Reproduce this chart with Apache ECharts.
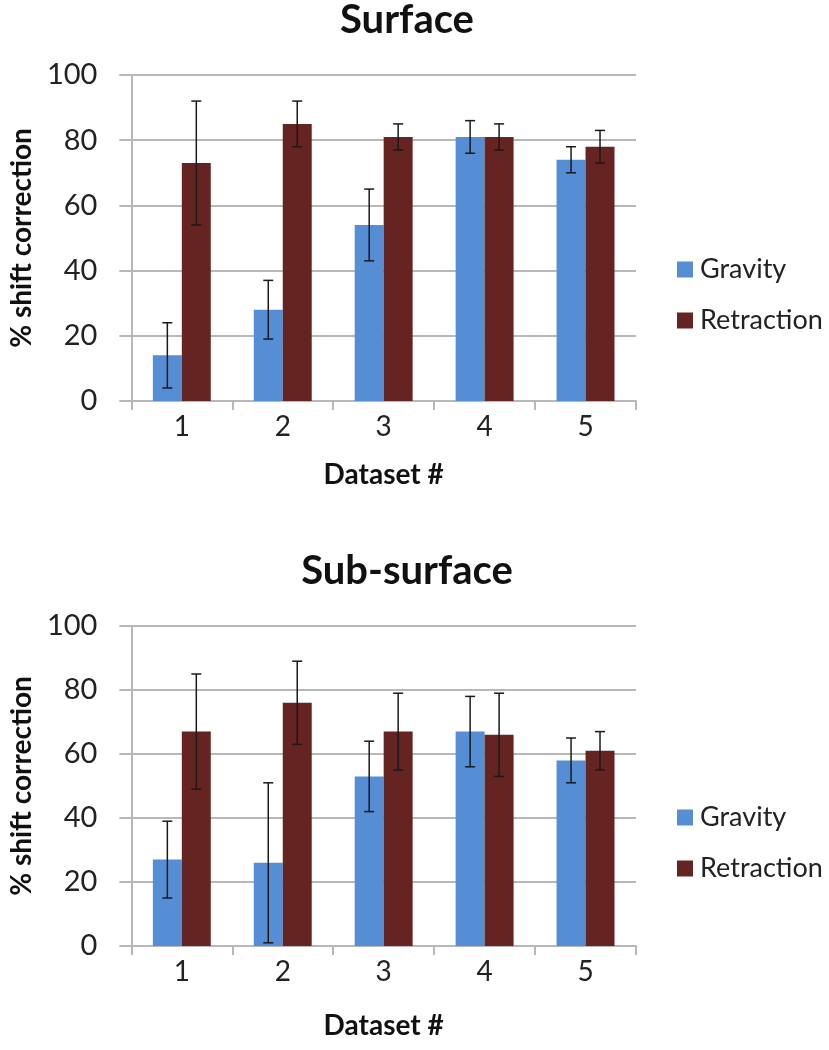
<!DOCTYPE html>
<html>
<head>
<meta charset="utf-8">
<script src="https://cdn.jsdelivr.net/npm/echarts@6/dist/echarts.min.js"></script>
<style>
html,body{margin:0;padding:0;background:#fff;}
#chart{width:829px;height:1050px;}
</style>
</head>
<body>
<div id="chart"></div>
<script>
const categories = ['1', '2', '3', '4', '5'];
const yTicks = [0, 20, 40, 60, 80, 100];
const seriesNames = ['Gravity', 'Retraction'];
const surfaceGravity = [14, 28, 54, 81, 74];
const surfaceGravityErr = [10, 9, 11, 5, 4];
const surfaceRetraction = [73, 85, 81, 81, 78];
const surfaceRetractionErr = [19, 7, 4, 4, 5];
const subGravity = [27, 26, 53, 67, 58];
const subGravityErr = [12, 25, 11, 11, 7];
const subRetraction = [67, 76, 67, 66, 61];
const subRetractionErr = [18, 13, 12, 13, 6];

const FONT = 'Lato';
const BLUE = '#558ED5';
const RED = '#652421';
const GRIDC = '#B8B8B8';
const BAR_FRAC = 0.287;

const chart = echarts.init(document.getElementById('chart'), null, {renderer: 'canvas'});

function errData(vals, errs) {
  return vals.map((v, i) => [i, v - errs[i], v + errs[i]]);
}
function errSeries(vals, errs, sign, gi) {
  return {
    type: 'custom',
    xAxisIndex: gi, yAxisIndex: gi,
    z: 5,
    silent: true,
    data: errData(vals, errs),
    renderItem: function (params, api) {
      const band = api.size([1, 0])[0];
      const lo = api.coord([api.value(0), api.value(1)]);
      const hi = api.coord([api.value(0), api.value(2)]);
      const x = lo[0] + sign * band * BAR_FRAC / 2;
      const cap = 5;
      const st = {stroke: '#1a1a1a', lineWidth: 1.5};
      return {
        type: 'group',
        children: [
          {type: 'line', shape: {x1: x, y1: lo[1], x2: x, y2: hi[1]}, style: st},
          {type: 'line', shape: {x1: x - cap, y1: lo[1], x2: x + cap, y2: lo[1]}, style: st},
          {type: 'line', shape: {x1: x - cap, y1: hi[1], x2: x + cap, y2: hi[1]}, style: st}
        ]
      };
    }
  };
}
function xAxis(gi, gap) {
  return {
    type: 'category', gridIndex: gi, data: categories,
    axisLine: {lineStyle: {color: GRIDC, width: 2}},
    axisTick: {show: true, length: 9, lineStyle: {color: GRIDC, width: 2}},
    axisLabel: {color: '#222', fontSize: 28, fontFamily: FONT, margin: 12},
    name: 'Dataset #', nameLocation: 'middle', nameGap: gap,
    nameTextStyle: {color: '#111', fontSize: 28, fontWeight: 'bold', fontFamily: FONT}
  };
}
function yAxis(gi) {
  return {
    type: 'value', gridIndex: gi, min: yTicks[0], max: yTicks[yTicks.length - 1], interval: 20,
    axisLine: {show: true, lineStyle: {color: GRIDC, width: 2}},
    axisTick: {show: true, length: 12, lineStyle: {color: GRIDC, width: 2}},
    splitLine: {show: true, lineStyle: {color: GRIDC, width: 2}},
    axisLabel: {color: '#222', fontSize: 29, fontFamily: FONT, margin: 34},
    name: '% shift correction', nameLocation: 'middle', nameGap: 95, nameRotate: 90,
    nameTextStyle: {color: '#111', fontSize: 28, fontWeight: 'bold', fontFamily: FONT}
  };
}
function bar(name, vals, color, gi) {
  return {
    name: name, type: 'bar', xAxisIndex: gi, yAxisIndex: gi,
    data: vals, barWidth: (BAR_FRAC * 100) + '%', barGap: '0%',
    itemStyle: {color: color}
  };
}
function legend(name, top) {
  return {
    data: [name], left: 677, top: top, orient: 'vertical', padding: 0,
    itemWidth: 16, itemHeight: 16, icon: 'rect', itemGap: 0,
    textStyle: {color: '#222', fontSize: 27, fontFamily: FONT, padding: [0, 0, 0, 2]}
  };
}

const option = {
  animation: false,
  backgroundColor: '#fff',
  title: [
    {text: 'Surface', left: 407, top: 0, textAlign: 'center', padding: 0,
     textStyle: {fontSize: 40, fontWeight: 'bold', color: '#111', fontFamily: FONT}},
    {text: 'Sub-surface', left: 407, top: 551, textAlign: 'center', padding: 0,
     textStyle: {fontSize: 40, fontWeight: 'bold', color: '#111', fontFamily: FONT}}
  ],
  legend: [
    legend(seriesNames[0], 256), legend(seriesNames[1], 307),
    legend(seriesNames[0], 804), legend(seriesNames[1], 855)
  ],
  grid: [
    {left: 131, width: 505, top: 75, height: 326},
    {left: 131, width: 505, top: 626, height: 320}
  ],
  xAxis: [xAxis(0, 60), xAxis(1, 66)],
  yAxis: [yAxis(0), yAxis(1)],
  series: [
    bar(seriesNames[0], surfaceGravity, BLUE, 0),
    bar(seriesNames[1], surfaceRetraction, RED, 0),
    errSeries(surfaceGravity, surfaceGravityErr, -1, 0),
    errSeries(surfaceRetraction, surfaceRetractionErr, 1, 0),
    bar(seriesNames[0], subGravity, BLUE, 1),
    bar(seriesNames[1], subRetraction, RED, 1),
    errSeries(subGravity, subGravityErr, -1, 1),
    errSeries(subRetraction, subRetractionErr, 1, 1)
  ]
};
chart.setOption(option);
</script>
</body>
</html>
